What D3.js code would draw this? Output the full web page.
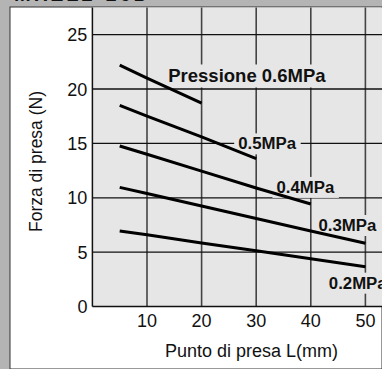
<!DOCTYPE html>
<html><head><meta charset="utf-8">
<script src="https://cdn.jsdelivr.net/npm/d3@7"></script>
<style>html,body{margin:0;padding:0;background:#b4b4b4;}svg{display:block;font-family:"Liberation Sans",Arial,sans-serif;}</style>
</head><body>
<script>
// Data
const xTicks = [10, 20, 30, 40, 50];
const yTicks = [0, 5, 10, 15, 20, 25];
const pressures = ["0.6MPa", "0.5MPa", "0.4MPa", "0.3MPa", "0.2MPa"];
const pointX = [
  [5, 10, 20],
  [5, 10, 20, 30],
  [5, 10, 20, 30, 40],
  [5, 10, 20, 30, 40, 50],
  [5, 10, 20, 30, 40, 50]
];
const forceY = [
  [22.2, 21.0, 18.7],
  [18.5, 17.5, 15.6, 13.6],
  [14.76, 14.0, 12.45, 10.9, 9.43],
  [10.96, 10.4, 9.25, 8.1, 6.95, 5.82],
  [6.95, 6.6, 5.85, 5.13, 4.4, 3.67]
];
const labelTexts = ["Pressione 0.6MPa", "0.5MPa", "0.4MPa", "0.3MPa", "0.2MPa"];
const labelAt = [[28.3, 21.15], [32.0, 15.0], [39.0, 11.0], [46.7, 7.5], [43.3, 2.2]];
const labelAnchor = ["middle", "middle", "middle", "middle", "start"];

const W = 382, H = 369;
const svg = d3.select("body").append("svg").attr("width", W).attr("height", H);

// outer gray + white panel
svg.append("rect").attr("width", W).attr("height", H).attr("fill", "#b4b4b4");
svg.append("text").attr("x", 14).attr("y", 1.2).attr("font-weight", "bold")
  .attr("font-size", 20).attr("letter-spacing", 3).attr("fill", "#111").text("MHZL2-16D");
svg.append("rect").attr("x", 10).attr("y", 7).attr("width", W - 10).attr("height", H - 7)
  .attr("fill", "#fff").attr("stroke", "#333").attr("stroke-width", 1);

const x = d3.scaleLinear().domain([0, 50]).range([92.4, 365.4]);
const y = d3.scaleLinear().domain([0, 25]).range([306.6, 34.6]);
const plotTop = 7.5;

// plot background
svg.append("rect").attr("x", x(0)).attr("y", plotTop).attr("width", W - x(0)).attr("height", y(0) - plotTop)
  .attr("fill", "#e6e6e6");

// vertical grid
svg.append("g").selectAll("line").data(xTicks).join("line")
  .attr("x1", d => x(d)).attr("x2", d => x(d)).attr("y1", plotTop).attr("y2", y(0))
  .attr("stroke", "#444").attr("stroke-width", 1.6);
// horizontal grid
svg.append("g").selectAll("line").data(yTicks.filter(d => d > 0)).join("line")
  .attr("x1", x(0)).attr("x2", W).attr("y1", d => y(d)).attr("y2", d => y(d))
  .attr("stroke", "#111").attr("stroke-width", 1.3);

// axes lines
svg.append("line").attr("x1", x(0)).attr("x2", x(0)).attr("y1", plotTop).attr("y2", y(0))
  .attr("stroke", "#111").attr("stroke-width", 1.5);
svg.append("line").attr("x1", x(0)).attr("x2", W).attr("y1", y(0)).attr("y2", y(0))
  .attr("stroke", "#111").attr("stroke-width", 1.5);

// tick labels
svg.append("g").selectAll("text").data(yTicks).join("text")
  .attr("x", x(0) - 5).attr("y", d => y(d) + 6.5).attr("text-anchor", "end")
  .attr("font-size", 18).attr("fill", "#111").text(d => d);
svg.append("g").selectAll("text").data(xTicks).join("text")
  .attr("x", d => x(d)).attr("y", y(0) + 20).attr("text-anchor", "middle")
  .attr("font-size", 18).attr("fill", "#111").text(d => d);

// axis titles
svg.append("text").attr("transform", `translate(42,${(90 + 233) / 2}) rotate(-90)`)
  .attr("text-anchor", "middle").attr("font-size", 17.5).attr("fill", "#111").text("Forza di presa (N)");
svg.append("text").attr("x", 251.5).attr("y", 357).attr("text-anchor", "middle")
  .attr("font-size", 18).attr("fill", "#111").text("Punto di presa L(mm)");

// labels with background masks
const lg = svg.append("g");
labelTexts.forEach((t, i) => {
  const tx = lg.append("text").attr("x", x(labelAt[i][0])).attr("y", y(labelAt[i][1]) + 6)
    .attr("text-anchor", labelAnchor[i]).attr("font-weight", "bold")
    .attr("font-size", i === 0 ? 18.5 : 16.8).attr("fill", "#111").text(t);
  const bb = tx.node().getBBox();
  lg.insert("rect", "text").attr("x", bb.x - 4).attr("y", bb.y - 1).attr("width", bb.width + 8)
    .attr("height", bb.height + 2).attr("fill", "#e6e6e6");
});

// lines
const line = d3.line().x(d => x(d[0])).y(d => y(d[1]));
svg.append("g").selectAll("path").data(pressures.map((p, i) => pointX[i].map((v, j) => [v, forceY[i][j]])))
  .join("path").attr("d", line).attr("fill", "none").attr("stroke", "#000").attr("stroke-width", 3);
</script>
</body></html>
